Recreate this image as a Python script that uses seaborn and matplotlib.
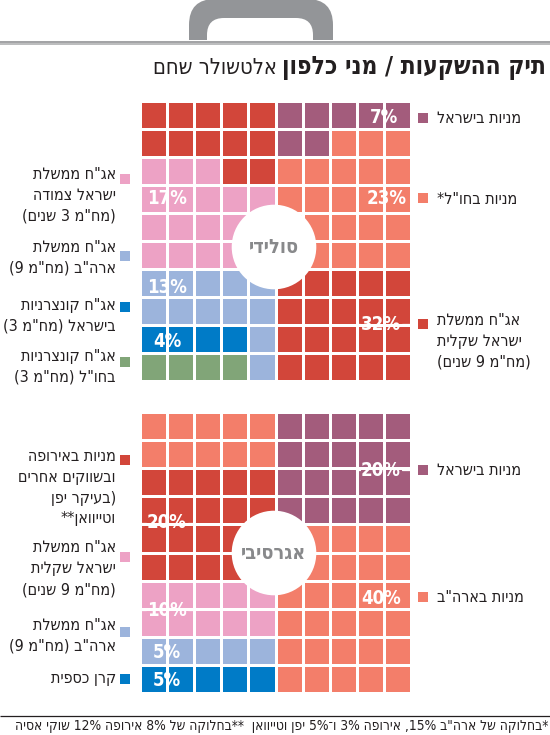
import re
import numpy as np
import pandas as pd
import seaborn as sns
import matplotlib
matplotlib.use("Agg")
import matplotlib.pyplot as plt
from matplotlib.colors import ListedColormap
from matplotlib.patches import Rectangle, Circle, FancyBboxPatch

# ---------------- data ----------------
solid_name = "סולידי"
solid_labels = ["מניות בישראל", "מניות בחו\"ל*", "אג\"ח ממשלת ישראל שקלית (מח\"מ 9 שנים)",
                "אג\"ח ממשלת ישראל צמודה (מח\"מ 3 שנים)", "אג\"ח ממשלת ארה\"ב (מח\"מ 9)",
                "אג\"ח קונצרניות בישראל (מח\"מ 3)", "אג\"ח קונצרניות בחו\"ל (מח\"מ 3)"]
solid_values = [7, 23, 32, 17, 13, 4, 4]
solid_legend_lines = [["מניות בישראל"], ["מניות בחו\"ל*"],
                      ["אג\"ח ממשלת", "ישראל שקלית", "(מח\"מ 9 שנים)"],
                      ["אג\"ח ממשלת", "ישראל צמודה", "(מח\"מ 3 שנים)"],
                      ["אג\"ח ממשלת", "ארה\"ב (מח\"מ 9)"],
                      ["אג\"ח קונצרניות", "בישראל (מח\"מ 3)"],
                      ["אג\"ח קונצרניות", "בחו\"ל (מח\"מ 3)"]]
# waffle cells: index of category for each of the 10x10 cells (row by row)
solid_grid = ["2222200000",
              "2222200111",
              "3332211111",
              "3333311111",
              "3333311111",
              "3333411111",
              "4444422222",
              "4444422222",
              "5555422222",
              "6666422222"]

aggr_name = "אגרסיבי"
aggr_labels = ["מניות בישראל", "מניות בארה\"ב",
               "מניות באירופה ובשווקים אחרים (בעיקר יפן וטייוואן**",
               "אג\"ח ממשלת ישראל שקלית (מח\"מ 9 שנים)", "אג\"ח ממשלת ארה\"ב (מח\"מ 9)", "קרן כספית"]
aggr_values = [20, 40, 20, 10, 5, 5]
aggr_legend_lines = [["מניות בישראל"], ["מניות בארה\"ב"],
                     ["מניות באירופה", "ובשווקים אחרים", "(בעיקר יפן", "וטייוואן**"],
                     ["אג\"ח ממשלת", "ישראל שקלית", "(מח\"מ 9 שנים)"],
                     ["אג\"ח ממשלת", "ארה\"ב (מח\"מ 9)"],
                     ["קרן כספית"]]
aggr_grid = ["1111100000",
             "1111100000",
             "2222200000",
             "2222200000",
             "2222211111",
             "2222211111",
             "3333311111",
             "3333311111",
             "4444411111",
             "5555511111"]

title_bold = "תיק ההשקעות / מני כלפון"
title_regular = "אלטשולר שחם"
footnote = "*בחלוקה של ארה\"ב 15%, אירופה 3% ו־5% יפן וטייוואן  **בחלוקה של 8% אירופה 12% שוקי אסיה"

# ---------------- styles ----------------
PURPLE, SALMON, DRED, PINK, LBLUE, BLUE, GREEN = ("#A35C7C", "#F37E6A", "#D2463A", "#EDA2C5",
                                                 "#9CB4DC", "#007BC7", "#81A578")
solid_colors = [PURPLE, SALMON, DRED, PINK, LBLUE, BLUE, GREEN]
aggr_colors = [PURPLE, SALMON, DRED, PINK, LBLUE, BLUE]
TXT = "#231F20"
HANDLE = "#939598"

sns.set_theme(style="white")
FAM = ["DejaVu Sans"]
plt.rcParams["font.family"] = FAM
F = dict(family=FAM, fontstretch="condensed")

MIRROR = {"(": ")", ")": "("}


def vis(s):
    """logical RTL Hebrew -> visual order for matplotlib"""
    parts = re.findall(r"[0-9A-Za-z%]+|[^0-9A-Za-z%]+", s)
    out = []
    for p in reversed(parts):
        if re.match(r"[0-9A-Za-z%]", p):
            out.append(p)
        else:
            out.append("".join(MIRROR.get(c, c) for c in reversed(p)))
    return "".join(out)


W, H = 550, 735
fig = plt.figure(figsize=(W / 100, H / 100), dpi=100)
fig.patch.set_facecolor("white")


def add_px_axes(x0, y0, x1, y1, z=1):
    return fig.add_axes([x0 / W, 1 - y1 / H, (x1 - x0) / W, (y1 - y0) / H], zorder=z)


def waffle(grid, colors, box):
    ax = add_px_axes(*box)
    df = pd.DataFrame([[int(c) for c in row] for row in grid])
    sns.heatmap(df, ax=ax, cmap=ListedColormap(colors), vmin=-0.5, vmax=len(colors) - 0.5,
                cbar=False, linewidths=0.8, linecolor="white",
                xticklabels=False, yticklabels=False)
    ax.set_xlabel("")
    ax.set_ylabel("")
    return ax


waffle(solid_grid, solid_colors, (140, 101, 411, 381))
waffle(aggr_grid, aggr_colors, (140, 412, 411, 693))

ov = add_px_axes(0, 0, W, H, z=5)
ov.set_xlim(0, W)
ov.set_ylim(H, 0)
ov.axis("off")
ov.patch.set_alpha(0)
renderer = fig.canvas.get_renderer()


def width_of(t):
    return t.get_window_extent(renderer).width


def fit_obj(t, px):
    for _ in range(3):
        t.set_fontsize(t.get_fontsize() * px / width_of(t))
    return t.get_fontsize()


def fit(text, px, **kw):
    t = ov.text(0, 0, text, fontsize=10, **kw)
    fs = fit_obj(t, px)
    t.remove()
    return fs


# briefcase handle
ov.add_patch(FancyBboxPatch((189, -1), 144, 70, boxstyle="round,pad=0,rounding_size=26",
                            fc=HANDLE, ec="none"))
ov.add_patch(FancyBboxPatch((207, 18), 106, 50, boxstyle="round,pad=0,rounding_size=17",
                            fc="white", ec="none"))
ov.add_patch(Rectangle((180, 39.5), 160, 40, fc="white", ec="none"))
ov.plot([0, W], [41.8, 41.8], color="#9A9B9D", lw=1.3, solid_capstyle="butt")
ov.plot([0, W], [44.3, 44.3], color="#B5B6B8", lw=1.3, solid_capstyle="butt")

# title
tb = ov.text(546, 68, vis(title_bold), fontsize=14, fontweight="bold", color=TXT,
             ha="right", va="center", **F)
fit_obj(tb, 266)
bb = tb.get_window_extent(renderer)
tr = ov.text(bb.x0 - 5, 68, vis(title_regular), fontsize=14, color=TXT,
             ha="right", va="center", **F)
fit_obj(tr, 124)

# centre circles
fs_center = fit(vis(solid_name), 50, fontweight="bold", **F)
for (cx, cy), name in [((274, 247), solid_name), ((274, 553), aggr_name)]:
    ov.add_patch(Circle((cx, cy), 42.3, fc="white", ec="none", zorder=3))
    ov.text(cx, cy, vis(name), fontsize=fs_center, fontweight="bold", color="#88898B",
            ha="center", va="center", zorder=4, **F)

# percent labels
fs_pct = fit("23%", 40, fontweight="bold", **F)
solid_pct_pos = [(384, 117), (387, 198), (381, 324), (167, 198), (167, 287), (167, 341), None]
aggr_pct_pos = [(381, 470), (381, 598), (167, 523), (167, 610), (167, 653), (167, 681)]
solid_leader = [False, False, True, False, False, False, False]
aggr_leader = [True, False, True, True, False, False]
for vals, poss, lead in [(solid_values, solid_pct_pos, solid_leader),
                         (aggr_values, aggr_pct_pos, aggr_leader)]:
    for v, p, ld in zip(vals, poss, lead):
        if p is None:
            continue
        t = ov.text(p[0], p[1], f"{v}%", fontsize=fs_pct, fontweight="bold", color="white",
                    ha="center", va="center", zorder=4, **F)
        if ld:
            b = t.get_window_extent(renderer)
            x0, x1 = b.x0, b.x1
            y = p[1]
            if p[0] > 275:
                ov.plot([x1 + 1, 411], [y, y], color="white", lw=0.9, zorder=2)
                ov.plot([x0 - 5, x0 - 1], [y, y], color="white", lw=0.9, zorder=2)
            else:
                ov.plot([140, x0 - 1], [y, y], color="white", lw=0.9, zorder=2)
                ov.plot([x1 + 1, x1 + 6], [y, y], color="white", lw=0.9, zorder=2)

# legends
left_lines = [s for ln in solid_legend_lines[3:] + aggr_legend_lines[2:] for s in ln]
fs_leg = min(fit(vis("מניות בישראל"), 99, **F), min(fit(vis(s), 113, **F) for s in left_lines))
LS = 21
# (side, marker_y, first_line_y)
solid_leg_pos = [("R", 118, 118), ("R", 198, 199), ("R", 324, 320),
                 ("L", 179, 174), ("L", 256, 247), ("L", 307, 305), ("L", 362, 356)]
aggr_leg_pos = [("R", 470, 470), ("R", 597, 597), ("L", 460, 456),
                ("L", 557, 548), ("L", 632, 625), ("L", 679, 678)]
for lines, colors, poss in [(solid_legend_lines, solid_colors, solid_leg_pos),
                            (aggr_legend_lines, aggr_colors, aggr_leg_pos)]:
    for ln, col, (side, my, ly) in zip(lines, colors, poss):
        mx = 423 if side == "R" else 125
        ov.add_patch(Rectangle((mx - 5, my - 5), 10, 10, fc=col, ec="none"))
        for i, s in enumerate(ln):
            if side == "R":
                ov.text(437, ly + i * LS, vis(s), fontsize=fs_leg, color=TXT,
                        ha="left", va="center", **F)
            else:
                ov.text(116, ly + i * LS, vis(s), fontsize=fs_leg, color=TXT,
                        ha="right", va="center", **F)

# footnote
ov.plot([0, W], [715.5, 715.5], color=TXT, lw=0.9, solid_capstyle="butt")
fn = ov.text(548, 726, vis(footnote), fontsize=9, color=TXT, ha="right", va="center", **F)
fit_obj(fn, 533)

fig.savefig("out.png", dpi=100, facecolor="white")
